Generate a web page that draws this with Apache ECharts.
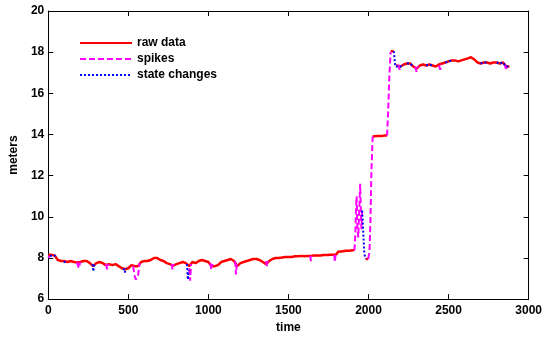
<!DOCTYPE html>
<html><head><meta charset="utf-8">
<script src="https://cdn.jsdelivr.net/npm/echarts@6/dist/echarts.min.js"></script>
<style>html,body{margin:0;padding:0;background:#fff}#c{width:545px;height:339px}</style>
</head><body><div id="c"></div>
<script>
var seriesNames = ['raw data', 'spikes', 'state changes'];
var rawTime = [0,20,40,60,80,100,120,140,160,180,200,220,240,260,280,300,320,340,360,380,400,420,440,460,480,500,520,540,560,580,600,620,640,660,680,700,720,740,760,780,800,820,840,860,880,900,920,940,960,980,1000,1020,1040,1060,1080,1100,1120,1140,1160,1180,1200,1220,1240,1260,1280,1300,1320,1340,1360,1380,1400,1420,1440,1460,1480,1500,1520,1540,1560,1580,1600,1620,1640,1660,1680,1700,1720,1740,1760,1780,1800,1810,1820,1840,1860,1880,1900,1912,1913,1982,1990,1998,1999,2026,2050,2080,2100,2116,2117,2138,2150,2158,2159,2172,2180,2200,2220,2240,2260,2280,2300,2320,2340,2360,2380,2400,2420,2440,2460,2480,2500,2520,2540,2560,2580,2600,2620,2640,2660,2680,2700,2720,2740,2760,2780,2800,2820,2840,2860,2880];
var rawValue = [8.15,8.15,8.12,7.9,7.85,7.85,7.8,7.85,7.8,7.78,7.8,7.85,7.85,7.75,7.6,7.75,7.8,7.75,7.65,7.7,7.65,7.7,7.6,7.5,7.45,7.5,7.65,7.6,7.6,7.8,7.85,7.85,7.9,8.0,8.0,7.9,7.85,7.75,7.7,7.62,7.7,7.75,7.8,7.75,7.6,7.8,7.75,7.85,7.9,7.85,7.8,7.6,7.6,7.65,7.8,7.85,7.9,7.95,7.85,7.6,7.75,7.8,7.85,7.9,7.95,7.95,7.9,7.8,7.7,7.85,7.95,8.0,8.0,8.02,8.05,8.05,8.05,8.08,8.08,8.1,8.08,8.1,8.1,8.12,8.12,8.12,8.14,8.14,8.15,8.15,8.18,8.3,8.32,8.33,8.35,8.35,8.37,8.37,null,7.95,7.88,7.95,null,13.9,13.92,13.92,13.95,13.95,null,18.05,18.08,18.05,null,17.35,17.35,17.3,17.4,17.45,17.45,17.3,17.2,17.35,17.4,17.35,17.4,17.35,17.3,17.4,17.45,17.5,17.55,17.6,17.6,17.55,17.6,17.65,17.7,17.75,17.65,17.5,17.45,17.5,17.5,17.45,17.5,17.5,17.45,17.5,17.3,17.3];
var spikeTime = [0,6,10,11,180,190,200,201,360,368,376,377,530,540,548,556,562,570,571,770,776,784,785,880,886,892,893,1012,1018,1026,1027,1168,1172,1178,1179,1360,1366,1372,1373,1636,1640,1644,1645,1786,1790,1794,1795,1912,1918,1922,1926,1930,1936,1942,1948,1953,1956,1960,1961,1998,2006,2012,2018,2026,2027,2116,2122,2130,2138,2139,2186,2194,2202,2203,2290,2300,2310,2311,2440,2448,2456,2457,2850,2858,2866];
var spikeValue = [8.0,8.0,8.1,null,7.8,7.5,7.8,null,7.7,7.45,7.7,null,7.6,7.1,6.95,7.0,7.2,7.75,null,7.7,7.45,7.7,null,7.5,6.9,7.7,null,7.75,7.45,7.7,null,7.85,7.2,7.7,null,7.85,7.6,7.85,null,8.1,7.85,8.1,null,8.15,7.8,8.15,null,8.37,9.2,10.5,11.0,9.6,9.0,10.3,11.6,10.0,9.4,10.3,null,7.95,8.3,9.8,12.2,13.9,null,13.95,15.0,16.8,18.0,null,17.4,17.15,17.35,null,17.3,17.05,17.3,null,17.35,17.15,17.4,null,17.4,17.2,17.3];
var stateTime = [10,20,40,45,46,100,104,108,109,276,282,288,289,470,478,486,487,866,872,878,879,1960,1968,1974,1982,1983,2158,2162,2168,2180,2200,2220,2221,2240,2260,2280,2281,2360,2380,2400,2401,2480,2500,2520,2521,2700,2720,2740,2741,2800,2820,2840,2860,2875];
var stateValue = [8.1,8.15,8.12,8.05,null,7.85,7.75,7.85,null,7.7,7.35,7.7,null,7.5,7.3,7.5,null,7.7,6.95,7.4,null,10.3,10.25,8.2,7.95,null,18.05,17.7,17.3,17.35,17.3,17.4,null,17.45,17.45,17.3,null,17.35,17.4,17.35,null,17.5,17.55,17.6,null,17.45,17.5,17.5,null,17.5,17.45,17.5,17.3,17.3];

function pairs(t, v) { return t.map(function (x, i) { return [x, v[i] === null ? '-' : v[i]]; }); }

var chart = echarts.init(document.getElementById('c'), null, {renderer: 'canvas'});
var font = {fontFamily: 'Liberation Sans, Arial, sans-serif', fontWeight: 'bold', fontSize: 12, color: '#000'};
var axisLine = {show: true, onZero: false, lineStyle: {color: '#000', width: 1}};
var tick = {show: true, inside: true, length: 5, lineStyle: {color: '#000'}};
var plain = function (v) { return String(v); };
chart.setOption({
  animation: false,
  grid: {left: 42, right: 14, top: 11, bottom: 33, containLabel: false},
  legend: {
    orient: 'vertical', left: 74, top: 32, itemWidth: 52, itemHeight: 10, itemGap: 4,
    data: seriesNames,
    itemStyle: {opacity: 0},
    textStyle: Object.assign({}, font, {fontSize: 12})
  },
  xAxis: [
    {type: 'value', min: 0, max: 3000, interval: 500, position: 'bottom',
     name: 'time', nameLocation: 'middle', nameGap: 17, nameTextStyle: font,
     axisLine: axisLine, axisTick: tick, splitLine: {show: false},
     axisLabel: Object.assign({margin: 6, formatter: plain}, font)},
    {type: 'value', min: 0, max: 3000, interval: 500, position: 'top',
     axisLine: axisLine, axisTick: tick, splitLine: {show: false}, axisLabel: {show: false}}
  ],
  yAxis: [
    {type: 'value', min: 6, max: 20, interval: 2, position: 'left',
     name: 'meters', nameLocation: 'middle', nameGap: 24, nameRotate: 90, nameTextStyle: font,
     axisLine: axisLine, axisTick: tick, splitLine: {show: false},
     axisLabel: Object.assign({margin: 4, formatter: plain}, font)},
    {type: 'value', min: 6, max: 20, interval: 2, position: 'right',
     axisLine: axisLine, axisTick: tick, splitLine: {show: false}, axisLabel: {show: false}}
  ],
  series: [
    {name: seriesNames[0], type: 'line', data: pairs(rawTime, rawValue), showSymbol: false, symbol: 'none',
     connectNulls: false, lineStyle: {color: '#ff0000', width: 2.5, type: 'solid'}, itemStyle: {color: '#ff0000'}, z: 2},
    {name: seriesNames[1], type: 'line', data: pairs(spikeTime, spikeValue), showSymbol: false, symbol: 'none',
     connectNulls: false, lineStyle: {color: '#ff00ff', width: 2, type: [6, 3]}, itemStyle: {color: '#ff00ff'}, z: 3},
    {name: seriesNames[2], type: 'line', data: pairs(stateTime, stateValue), showSymbol: false, symbol: 'none',
     connectNulls: false, lineStyle: {color: '#0000ff', width: 2, type: [2, 2]}, itemStyle: {color: '#0000ff'}, z: 4}
  ]
});
</script></body></html>
